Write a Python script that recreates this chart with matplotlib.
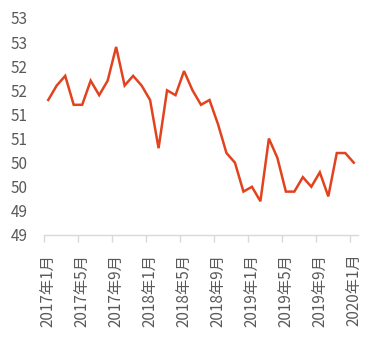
import matplotlib
matplotlib.use("Agg")
import matplotlib.pyplot as plt
from matplotlib.ticker import FixedLocator, FuncFormatter
from decimal import Decimal, ROUND_HALF_UP

plt.rcParams["font.family"] = ["Noto Sans CJK SC", "DejaVu Sans"]

# 月度数据 2017年1月 - 2020年1月
months = [f"{y}年{m}月" for y in (2017, 2018, 2019) for m in range(1, 13)] + ["2020年1月"]
values = [51.3, 51.6, 51.8, 51.2, 51.2, 51.7, 51.4, 51.7, 52.4, 51.6, 51.8, 51.6,
          51.3, 50.3, 51.5, 51.4, 51.9, 51.5, 51.2, 51.3, 50.8, 50.2, 50.0, 49.4,
          49.5, 49.2, 50.5, 50.1, 49.4, 49.4, 49.7, 49.5, 49.8, 49.3, 50.2, 50.2,
          50.0]
y_ticks = [48.5, 49.0, 49.5, 50.0, 50.5, 51.0, 51.5, 52.0, 52.5, 53.0]

LINE = "#E2431E"
TXT = "#595959"
AXIS = "#D9D9D9"

fig = plt.figure(figsize=(3.77, 3.38), dpi=100)
ax = fig.add_axes([44 / 377, 1 - 235 / 338, 314 / 377, 217 / 338])

x = list(range(len(values)))
ax.plot(x, values, color=LINE, lw=1.8, solid_joinstyle="miter")

ax.set_xlim(-0.5, len(values) - 0.5)
ax.set_ylim(y_ticks[0], y_ticks[-1])

# 纵轴：整数显示（四舍五入）
ax.yaxis.set_major_locator(FixedLocator(y_ticks))
ax.yaxis.set_major_formatter(FuncFormatter(
    lambda v, p: str(Decimal(str(v)).quantize(Decimal("1"), rounding=ROUND_HALF_UP))))
ax.tick_params(axis="y", length=0, pad=12, labelsize=11, labelcolor=TXT)

# 横轴：刻度线在分类边界，标签在分类中间
ax.set_xticks([i - 0.5 for i in range(0, len(values), 4)])
ax.set_xticklabels([])
ax.set_xticks(list(range(0, len(values), 4)), minor=True)
ax.set_xticklabels(months[::4], minor=True, rotation=90)
ax.tick_params(axis="x", which="major", length=5, color=AXIS, width=1)
ax.tick_params(axis="x", which="minor", length=0, pad=13.5, labelsize=11, labelcolor=TXT)

for s in ("top", "right", "left"):
    ax.spines[s].set_visible(False)
ax.spines["bottom"].set_color(AXIS)
ax.spines["bottom"].set_linewidth(1)

fig.savefig("out.png", dpi=100, facecolor="white")
